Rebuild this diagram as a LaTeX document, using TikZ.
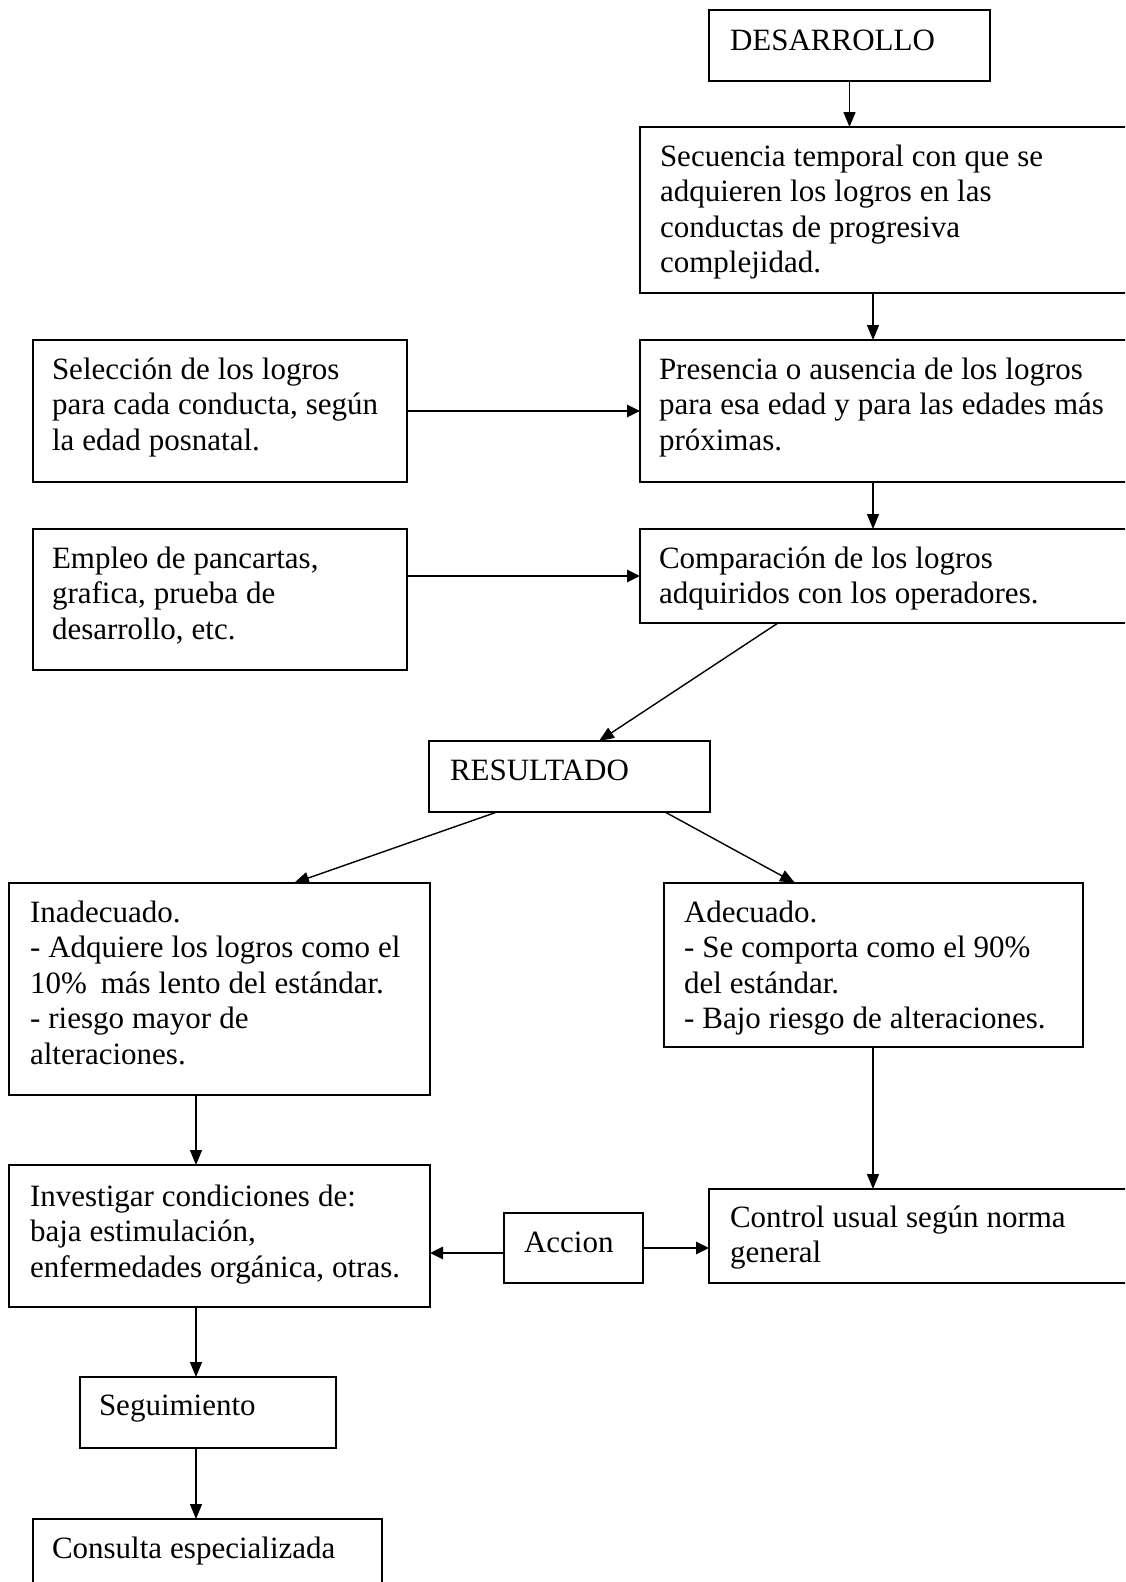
\documentclass[tikz,border=0pt]{standalone}
\usepackage{fontspec}
\setmainfont{Liberation Serif}
\usetikzlibrary{arrows.meta,calc}
\begin{document}
\begin{tikzpicture}[x=1pt,y=-1pt,
  box/.style={draw=black,line width=1.9pt,rectangle,anchor=north west,inner sep=0pt,outer sep=0pt},
  txt/.style={anchor=base west,inner sep=0pt,outer sep=0pt,text width=700pt,align=left,
    font=\fontsize{31pt}{35.5pt}\selectfont,
    execute at begin node={\spaceskip=8pt\relax\xspaceskip=8pt\relax}},
  conn/.style={line width=1.4pt,-{Triangle[length=15pt,width=12pt]}},
  hconn/.style={line width=2.8pt,-{Triangle[length=13pt,width=12pt]}}]
\useasboundingbox (0,0) rectangle (1125,1582);
\clip (0,0) rectangle (1125,1582);
% boxes
\node[box,minimum width=281pt,minimum height=71pt] (des) at (709,10) {};
\node[box,minimum width=520pt,minimum height=166pt] (sec) at (640,127) {};
\node[box,minimum width=374pt,minimum height=142pt] (sel) at (33,340) {};
\node[box,minimum width=520pt,minimum height=142pt] (pres) at (640,340) {};
\node[box,minimum width=374pt,minimum height=141pt] (emp) at (33,529) {};
\node[box,minimum width=520pt,minimum height=94pt] (comp) at (640,529) {};
\node[box,minimum width=281pt,minimum height=71pt] (res) at (429,741) {};
\node[box,minimum width=421pt,minimum height=212pt] (inad) at (9,883) {};
\node[box,minimum width=419pt,minimum height=164pt] (adec) at (664,883) {};
\node[box,minimum width=421pt,minimum height=142pt] (inv) at (9,1165) {};
\node[box,minimum width=450pt,minimum height=94pt] (ctrl) at (709,1189) {};
\node[box,minimum width=139pt,minimum height=70pt] (acc) at (504,1213) {};
\node[box,minimum width=256pt,minimum height=71pt] (seg) at (80,1377) {};
\node[box,minimum width=349pt,minimum height=100pt] (cons) at (33,1519) {};
% texts
\node[txt] (tdes) at ([xshift=21pt,yshift=-40pt]des.north west) {DESARROLLO};
\node[txt] (tsec) at ([xshift=20pt,yshift=-39pt]sec.north west) {Secuencia temporal con que se\\adquieren los logros en las\\conductas de progresiva\\complejidad.};
\node[txt] (tsel) at ([xshift=19pt,yshift=-39pt]sel.north west) {Selección de los logros\\para cada conducta, según\\la edad posnatal.};
\node[txt] (tpres) at ([xshift=19pt,yshift=-39pt]pres.north west) {Presencia o ausencia de los logros\\para esa edad y para las edades más\\próximas.};
\node[txt] (temp) at ([xshift=19pt,yshift=-39pt]emp.north west) {Empleo de pancartas,\\grafica, prueba de\\desarrollo, etc.};
\node[txt] (tcomp) at ([xshift=19pt,yshift=-39pt]comp.north west) {Comparación de los logros\\adquiridos con los operadores.};
\node[txt] (tres) at ([xshift=21pt,yshift=-39pt]res.north west) {RESULTADO};
\node[txt] (tinad) at ([xshift=21pt,yshift=-39pt]inad.north west) {Inadecuado.\\- Adquiere los logros como el\\10\%\hspace{14pt}más lento del estándar.\\- riesgo mayor de\\alteraciones.};
\node[txt] (tadec) at ([xshift=20pt,yshift=-39pt]adec.north west) {Adecuado.\\- Se comporta como el 90\%\\del estándar.\\- Bajo riesgo de alteraciones.};
\node[txt] (tinv) at ([xshift=21pt,yshift=-41pt]inv.north west) {Investigar condiciones de:\\baja estimulación,\\enfermedades orgánica, otras.};
\node[txt] (tctrl) at ([xshift=21pt,yshift=-38pt]ctrl.north west) {Control usual según norma\\general};
\node[txt] (tacc) at ([xshift=20pt,yshift=-39pt]acc.north west) {Accion};
\node[txt] (tseg) at ([xshift=19pt,yshift=-38pt]seg.north west) {Seguimiento};
\node[txt] (tcons) at ([xshift=19pt,yshift=-39pt]cons.north west) {Consulta especializada};
% connectors
\draw[conn] (des.south) -- (des.south |- sec.north);
\draw[conn] ([xshift=233pt]sec.south west) -- ([xshift=233pt]pres.north west);
\draw[conn] ([xshift=233pt]pres.south west) -- ([xshift=233pt]comp.north west);
\draw[hconn] (sel.east) -- (sel.east -| pres.west);
\coordinate (e1) at ([yshift=-47pt]emp.north east);
\draw[hconn] (e1) -- (e1 -| comp.west);
\draw[conn] ([xshift=138pt]comp.south west) -- ([xshift=170pt]res.north west);
\draw[conn] ([xshift=68pt]res.south west) -- ([xshift=285pt]inad.north west);
\draw[conn] ([xshift=236pt]res.south west) -- ([xshift=131pt]adec.north west);
\draw[conn] ([xshift=209pt]adec.south west) -- ([xshift=164pt]ctrl.north west);
\draw[conn] ([xshift=187pt]inad.south west) -- ([xshift=187pt]inv.north west);
\draw[conn] ([xshift=187pt]inv.south west) -- ([xshift=116pt]seg.north west);
\draw[conn] ([xshift=116pt]seg.south west) -- ([xshift=163pt]cons.north west);
\coordinate (a1) at ([yshift=-40pt]acc.north west);
\draw[hconn] (a1) -- (a1 -| inv.east);
\coordinate (a2) at ([yshift=-35pt]acc.north east);
\draw[hconn] (a2) -- (a2 -| ctrl.west);
\end{tikzpicture}
\end{document}
